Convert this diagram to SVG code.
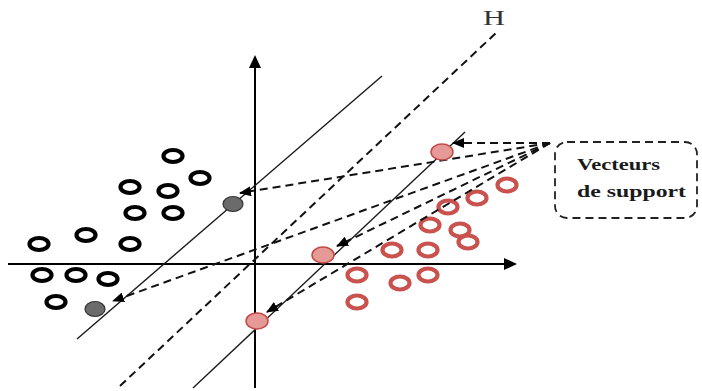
<svg xmlns="http://www.w3.org/2000/svg" width="702" height="391" viewBox="0 0 702 391">
<style>
.axis{stroke:#000;stroke-width:2;fill:none}
.margin{stroke:#1a1a1a;stroke-width:1.4;fill:none}
.dash{stroke:#111;stroke-width:2;stroke-dasharray:8 5;fill:none}
.neg{fill:none;stroke:#000;stroke-width:4.2}
.pos{fill:none;stroke:#c9524e;stroke-width:4.2}
.svn{fill:#6b6b6b;stroke:#333;stroke-width:1.2}
.svp{fill:#e59a98;stroke:#c24a47;stroke-width:1.5}
.lbl{font-family:"Liberation Serif","DejaVu Serif",serif;font-weight:bold;font-size:17.5px;fill:#1a1a1a}
</style>
<defs>
<marker id="ah" markerUnits="userSpaceOnUse" markerWidth="12" markerHeight="10" refX="11" refY="5" orient="auto">
<path d="M0,0 L12,5 L0,10 z" fill="#000"/>
</marker>
</defs>
<rect width="702" height="391" fill="#fff"/>
<g id="axes">
<line class="axis" x1="8" y1="264" x2="507" y2="264"/>
<path d="M517,264 L504,258 L504,270 z" fill="#000"/>
<line class="axis" x1="255" y1="388" x2="255" y2="66"/>
<path d="M255,55 L249,68 L261,68 z" fill="#000"/>
</g>
<g id="hyperplanes">
<line class="margin" x1="77" y1="339" x2="382" y2="76"/>
<line class="margin" x1="193" y1="388" x2="465" y2="132"/>
<line class="dash" x1="120" y1="386" x2="497" y2="32"/>
</g>
<g id="label-H"><text x="483" y="25" font-family="Liberation Serif, serif" font-size="21" fill="#333" textLength="22" lengthAdjust="spacingAndGlyphs">H</text></g>
<g id="negatives">
<ellipse class="neg" cx="173" cy="156" rx="9.5" ry="6"/>
<ellipse class="neg" cx="200" cy="178" rx="9.5" ry="6"/>
<ellipse class="neg" cx="130" cy="187" rx="9.5" ry="6"/>
<ellipse class="neg" cx="168" cy="191" rx="9.5" ry="6"/>
<ellipse class="neg" cx="135" cy="213" rx="9.5" ry="6"/>
<ellipse class="neg" cx="173" cy="213" rx="9.5" ry="6"/>
<ellipse class="neg" cx="39" cy="244" rx="9.5" ry="6"/>
<ellipse class="neg" cx="86" cy="235" rx="9.5" ry="6"/>
<ellipse class="neg" cx="130" cy="244" rx="9.5" ry="6"/>
<ellipse class="neg" cx="42" cy="275" rx="9.5" ry="6"/>
<ellipse class="neg" cx="76" cy="275" rx="9.5" ry="6"/>
<ellipse class="neg" cx="108" cy="279" rx="9.5" ry="6"/>
<ellipse class="neg" cx="56" cy="302" rx="9.5" ry="6"/>
</g>
<g id="positives">
<ellipse class="pos" cx="507" cy="185" rx="9.5" ry="6.5"/>
<ellipse class="pos" cx="477" cy="198" rx="9.5" ry="6.5"/>
<ellipse class="pos" cx="448" cy="207" rx="9.5" ry="6.5"/>
<ellipse class="pos" cx="430" cy="225" rx="9.5" ry="6.5"/>
<ellipse class="pos" cx="460" cy="230" rx="9.5" ry="6.5"/>
<ellipse class="pos" cx="468" cy="242" rx="9.5" ry="6.5"/>
<ellipse class="pos" cx="392" cy="250" rx="9.5" ry="6.5"/>
<ellipse class="pos" cx="428" cy="250" rx="9.5" ry="6.5"/>
<ellipse class="pos" cx="357" cy="275" rx="9.5" ry="6.5"/>
<ellipse class="pos" cx="428" cy="275" rx="9.5" ry="6.5"/>
<ellipse class="pos" cx="400" cy="283" rx="9.5" ry="6.5"/>
<ellipse class="pos" cx="357" cy="302" rx="9.5" ry="6.5"/>
</g>
<g id="connectors">
<line class="dash" x1="550" y1="143" x2="453" y2="143" marker-end="url(#ah)"/>
<line class="dash" x1="550" y1="143" x2="240" y2="193" marker-end="url(#ah)"/>
<line class="dash" x1="550" y1="143" x2="113" y2="301" marker-end="url(#ah)"/>
<line class="dash" x1="550" y1="143" x2="337" y2="246" marker-end="url(#ah)"/>
<line class="dash" x1="550" y1="143" x2="267" y2="312" marker-end="url(#ah)"/>
</g>
<g id="sv-neg-1"><ellipse class="svn" cx="233" cy="204" rx="10" ry="7.5"/></g>
<g id="sv-neg-2"><ellipse class="svn" cx="95" cy="309" rx="10" ry="7.5"/></g>
<g id="sv-pos-1"><ellipse class="svp" cx="442" cy="152" rx="11" ry="8"/></g>
<g id="sv-pos-2"><ellipse class="svp" cx="323" cy="255" rx="11" ry="8"/></g>
<g id="sv-pos-3"><ellipse class="svp" cx="257" cy="321" rx="11" ry="8"/></g>
<g id="callout">
<rect x="555" y="142" width="142" height="76" rx="12" ry="12" fill="none" stroke="#222" stroke-width="1.8" stroke-dasharray="8 5"/>
<text class="lbl" x="577" y="170" textLength="83" lengthAdjust="spacingAndGlyphs">Vecteurs</text>
<text class="lbl" x="577" y="197" textLength="109" lengthAdjust="spacingAndGlyphs">de support</text>
</g>
</svg>
